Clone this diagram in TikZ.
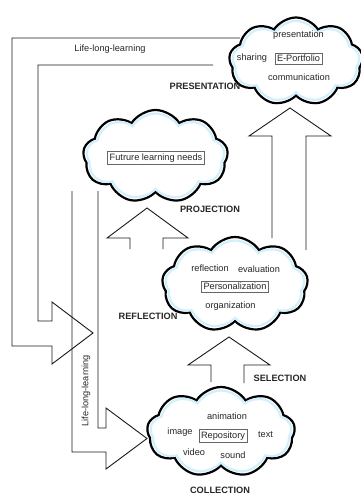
\documentclass[tikz,border=0pt]{standalone}
\usepackage{fontspec}
\setmainfont{Liberation Sans}
\usetikzlibrary{shapes.symbols}

\begin{document}
\begin{tikzpicture}[x=1pt,y=-1pt,line join=miter,
	blk/.style={draw=black!90,line width=0.9pt},
	cl/.style={cloud,cloud puffs=9,cloud puff arc=115,draw=black,line width=2.2pt,fill=white,inner sep=0pt},
	glow/.style={cloud,cloud puffs=9,cloud puff arc=115,draw=cyan!18,line width=2.2pt,inner sep=0pt},
	lbl/.style={font=\fontsize{9.2}{11}\selectfont,text=black!85,inner sep=1pt},
	bx/.style={lbl,draw=black!60,line width=0.6pt,inner sep=2pt},
	ttl/.style={font=\fontsize{9.2}{11}\selectfont\bfseries,text=black!85}]
	\useasboundingbox (0,0) rectangle (361,495);
	%% hollow arrows
	\coordinate (l1) at (240,38);
	\coordinate (l2) at (213,65);
	\draw [blk] (l1) -- (12,38) -- (12,346) -- (52,346) -- (52,364) -- (93,333) -- (52,302) -- (52,321) -- (38,321) -- (38,65) -- (l2);
	\coordinate (v1) at (98,191);
	\coordinate (v2) at (72,191);
	\draw [blk] (v1) -- (98,428) -- (106,428) -- (106,408) -- (147,438.5) -- (106,469) -- (106,452) -- (72,452) -- (v2);
	\draw [blk] (130,249) -- (130,238) -- (107,238) -- (147,208) -- (188,238) -- (163,238) -- (163,249);
	\draw [blk] (272,238) -- (272,136) -- (249,136) -- (290,108) -- (331,136) -- (306,136) -- (306,250);
	\draw [blk] (211,382) -- (211,365) -- (188,365) -- (229,337) -- (270,365) -- (244,365) -- (244,383);
	%% clouds
	\node (eport) at (296,61.5) [cl,minimum width=134,minimum height=88] {};
	\node at (eport) [glow,minimum width=127,minimum height=81] {};
	\node (needs) at (155.5,156.5) [cl,minimum width=145,minimum height=93] {};
	\node at (needs) [glow,minimum width=138,minimum height=86] {};
	\node (pers) at (235,284.5) [cl,minimum width=146,minimum height=95] {};
	\node at (pers) [glow,minimum width=139,minimum height=88] {};
	\node (repo) at (221,432) [cl,minimum width=148,minimum height=90] {};
	\node at (repo) [glow,minimum width=141,minimum height=83] {};
	%% texts
	\node (llA) at (110,49) [lbl] {Life-long-learning};
	\node (llB) at (86,391) [lbl,rotate=90] {Life-long-learning};
	\node (tPres) at (205,86) [ttl] {PRESENTATION};
	\node (tProj) at (210,209) [ttl] {PROJECTION};
	\node (tRefl) at (148,316) [ttl] {REFLECTION};
	\node (tSel) at (280,378) [ttl] {SELECTION};
	\node (tColl) at (220,490.5) [ttl] {COLLECTION};
	%
	\node (presentation) at (298.5,35) [lbl] {presentation};
	\node (sharing) at (252,58) [lbl] {sharing};
	\node (ep) at (298.5,58.5) [bx] {E-Portfolio};
	\node (communication) at (299,77) [lbl] {communication};
	%
	\node (fut) at (156,158) [bx] {Futrure learning needs};
	%
	\node (reflection) at (210,268) [lbl] {reflection};
	\node (evaluation) at (259,269) [lbl] {evaluation};
	\node (per) at (235,286.5) [bx] {Personalization};
	\node (organization) at (230.5,306) [lbl] {organization};
	%
	\node (animation) at (227,416) [lbl] {animation};
	\node (image) at (180,432) [lbl] {image};
	\node (rep) at (223,436) [bx] {Repository};
	\node (text) at (265.5,435) [lbl] {text};
	\node (video) at (194,452) [lbl] {video};
	\node (sound) at (233,455) [lbl] {sound};
\end{tikzpicture}
\end{document}
